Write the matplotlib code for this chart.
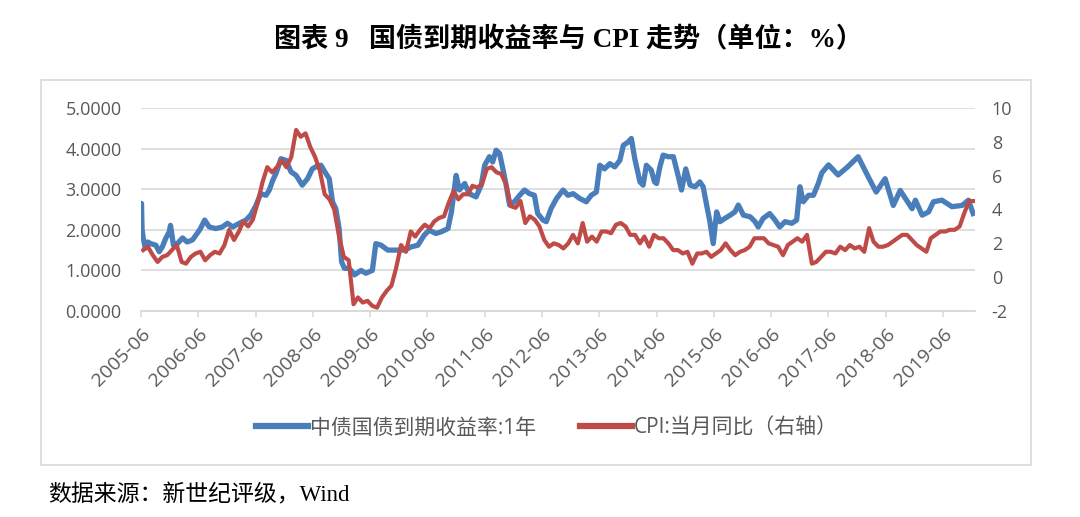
import pandas as pd
import matplotlib
matplotlib.use('Agg')
import matplotlib.pyplot as plt
from matplotlib.patches import Rectangle

plt.rcParams['font.family'] = ['Open Sans', 'Noto Sans CJK SC', 'DejaVu Sans']
plt.rcParams['axes.unicode_minus'] = False

# 中债国债到期收益率:1年 (左轴, 从图上读取)
bond_dates = [
    '2005-06-01', '2005-06-04', '2005-06-08', '2005-06-15', '2005-06-28', '2005-07-15',
    '2005-08-01', '2005-09-04', '2005-09-25', '2005-10-15', '2005-11-06', '2005-11-28',
    '2005-12-06', '2005-12-25', '2006-01-19', '2006-02-21', '2006-03-22', '2006-04-25',
    '2006-05-25', '2006-06-15', '2006-07-12', '2006-08-10', '2006-09-21', '2006-11-01',
    '2006-12-04', '2007-01-07', '2007-02-18', '2007-04-01', '2007-05-01', '2007-06-04',
    '2007-07-04', '2007-08-07', '2007-08-28', '2007-09-19', '2007-10-10', '2007-11-10',
    '2007-12-13', '2008-01-13', '2008-02-15', '2008-03-25', '2008-04-28', '2008-05-28',
    '2008-06-19', '2008-07-22', '2008-08-22', '2008-09-13', '2008-10-04', '2008-10-25',
    '2008-11-15', '2008-12-01', '2008-12-19', '2009-01-19', '2009-02-21', '2009-04-04',
    '2009-05-04', '2009-06-15', '2009-07-07', '2009-08-10', '2009-09-21', '2009-11-12',
    '2010-01-07', '2010-02-18', '2010-04-01', '2010-05-12', '2010-06-12', '2010-07-25',
    '2010-08-28', '2010-10-10', '2010-11-01', '2010-12-01', '2010-12-22', '2011-01-25',
    '2011-02-22', '2011-04-07', '2011-05-10', '2011-06-01', '2011-07-01', '2011-07-22',
    '2011-08-13', '2011-09-04', '2011-09-25', '2011-10-16', '2011-11-07', '2011-12-07',
    '2012-01-10', '2012-02-10', '2012-03-13', '2012-04-13', '2012-05-04', '2012-06-07',
    '2012-06-28', '2012-07-28', '2012-09-01', '2012-10-13', '2012-11-13', '2012-12-16',
    '2013-01-28', '2013-03-10', '2013-04-10', '2013-05-13', '2013-06-04', '2013-07-04',
    '2013-08-07', '2013-09-07', '2013-10-10', '2013-11-01', '2013-12-01', '2013-12-22',
    '2014-01-13', '2014-02-15', '2014-03-07', '2014-03-28', '2014-04-28', '2014-05-19',
    '2014-06-01', '2014-06-22', '2014-07-13', '2014-08-13', '2014-09-16', '2014-10-16',
    '2014-11-07', '2014-12-04', '2015-01-01', '2015-02-01', '2015-03-04', '2015-03-25',
    '2015-04-16', '2015-05-07', '2015-05-28', '2015-06-19', '2015-07-10', '2015-08-10',
    '2015-09-13', '2015-10-13', '2015-11-04', '2015-12-07', '2016-01-19', '2016-02-19',
    '2016-03-10', '2016-04-10', '2016-05-22', '2016-06-25', '2016-07-25', '2016-08-28',
    '2016-10-10', '2016-11-10', '2016-12-01', '2016-12-22', '2017-01-25', '2017-02-25',
    '2017-03-28', '2017-04-19', '2017-06-01', '2017-08-01', '2017-10-01', '2017-12-07',
    '2018-02-10', '2018-04-01', '2018-05-28', '2018-07-19', '2018-09-01', '2018-11-16',
    '2018-12-07', '2019-01-19', '2019-03-01', '2019-04-01', '2019-05-25', '2019-07-28',
    '2019-10-01', '2019-11-10', '2019-12-10',
]
bond_yield = [
    2.03, 2.65, 2.00, 1.80, 1.55, 1.70,
    1.66, 1.62, 1.46, 1.58, 1.79, 1.95,
    2.11, 1.62, 1.66, 1.80, 1.70, 1.75,
    1.91, 2.03, 2.24, 2.07, 2.03, 2.07,
    2.16, 2.07, 2.16, 2.24, 2.36, 2.60,
    2.89, 2.85, 2.98, 3.22, 3.39, 3.75,
    3.71, 3.43, 3.34, 3.10, 3.26, 3.50,
    3.55, 3.59, 3.39, 3.26, 2.69, 2.52,
    2.03, 1.21, 1.05, 1.05, 0.89, 1.00,
    0.93, 1.00, 1.66, 1.62, 1.50, 1.50,
    1.50, 1.58, 1.62, 1.87, 1.99, 1.91,
    1.95, 2.03, 2.44, 3.34, 2.98, 3.14,
    2.89, 2.81, 3.10, 3.59, 3.80, 3.67,
    3.96, 3.88, 3.50, 3.10, 2.61, 2.69,
    2.85, 2.98, 2.89, 2.85, 2.40, 2.24,
    2.20, 2.52, 2.77, 2.98, 2.85, 2.89,
    2.77, 2.69, 2.85, 2.93, 3.59, 3.50,
    3.63, 3.55, 3.71, 4.08, 4.16, 4.25,
    3.75, 3.18, 3.10, 3.59, 3.47, 3.18,
    3.14, 3.55, 3.84, 3.80, 3.80, 3.34,
    2.98, 3.50, 3.10, 3.06, 3.18, 3.06,
    2.61, 2.20, 1.66, 2.44, 2.20, 2.28,
    2.36, 2.44, 2.61, 2.36, 2.32, 2.20,
    2.07, 2.28, 2.40, 2.24, 2.07, 2.20,
    2.16, 2.24, 3.06, 2.69, 2.85, 2.85,
    3.14, 3.40, 3.60, 3.35, 3.55, 3.80,
    3.30, 2.93, 3.26, 2.60, 2.97, 2.52,
    2.73, 2.36, 2.44, 2.69, 2.73, 2.57,
    2.60, 2.73, 2.40,
]

# CPI:当月同比 (右轴), 2005-06 至 2019-12 每月一个值
cpi_start = '2005-06-01'
cpi_yoy = [
    1.6, 1.8, 1.3, 0.9, 1.2, 1.3, 1.6,
    1.9, 0.9, 0.8, 1.2, 1.4, 1.5, 1.0, 1.3, 1.5, 1.4, 1.9, 2.8,
    2.2, 2.7, 3.3, 3.0, 3.4, 4.4, 5.6, 6.5, 6.2, 6.5, 6.9, 6.5,
    7.1, 8.7, 8.3, 8.5, 7.7, 7.1, 6.3, 4.9, 4.6, 4.0, 2.4, 1.2,
    1.0, -1.6, -1.2, -1.5, -1.4, -1.7, -1.8, -1.2, -0.8, -0.5, 0.6, 1.9,
    1.5, 2.7, 2.4, 2.8, 3.1, 2.9, 3.3, 3.5, 3.6, 4.4, 5.1, 4.6,
    4.9, 4.9, 5.4, 5.3, 5.5, 6.4, 6.5, 6.2, 6.1, 5.5, 4.2, 4.1,
    4.5, 3.2, 3.6, 3.4, 3.0, 2.2, 1.8, 2.0, 1.9, 1.7, 2.0, 2.5,
    2.0, 3.2, 2.1, 2.4, 2.1, 2.7, 2.7, 2.6, 3.1, 3.2, 3.0, 2.5,
    2.5, 2.0, 2.4, 1.8, 2.5, 2.3, 2.3, 2.0, 1.6, 1.6, 1.4, 1.5,
    0.8, 1.4, 1.4, 1.5, 1.2, 1.4, 1.6, 2.0, 1.6, 1.3, 1.5, 1.6,
    1.8, 2.3, 2.3, 2.3, 2.0, 1.9, 1.8, 1.3, 1.9, 2.1, 2.3, 2.1,
    2.5, 0.8, 0.9, 1.2, 1.5, 1.5, 1.4, 1.8, 1.6, 1.9, 1.7, 1.8,
    1.5, 2.9, 2.1, 1.8, 1.8, 1.9, 2.1, 2.3, 2.5, 2.5, 2.2, 1.9,
    1.7, 1.5, 2.3, 2.5, 2.7, 2.7, 2.8, 2.8, 3.0, 3.8, 4.5, 4.5,
]

tick_years = list(range(2005, 2020))
left_ticks = [0, 1, 2, 3, 4, 5]
right_ticks = [-2, 0, 2, 4, 6, 8, 10]

title = '图表 9   国债到期收益率与 CPI 走势（单位：%）'
source = '数据来源：新世纪评级，Wind'
label_bond = '中债国债到期收益率:1年'
label_cpi = 'CPI:当月同比（右轴）'

BLUE = '#4A7EBB'
RED = '#BE4B48'
GRID = '#D9D9D9'
TXT = '#595959'

bond_x = pd.to_datetime(bond_dates)
cpi_x = pd.date_range(cpi_start, periods=len(cpi_yoy), freq='MS') + pd.Timedelta(days=14)

fig = plt.figure(figsize=(10.8, 5.17), dpi=100)
fig.patches.append(Rectangle((41 / 1080, 1 - 465 / 517), 990 / 1080, 385 / 517,
                             transform=fig.transFigure, fill=False,
                             edgecolor=GRID, linewidth=1.2))

ax = fig.add_axes([141 / 1080, 206 / 517, 834 / 1080, 203 / 517])
ax2 = ax.twinx()

ax.plot(bond_x, bond_yield, color=BLUE, linewidth=3.8, solid_joinstyle='round',
        label=label_bond)
ax2.plot(cpi_x, cpi_yoy, color=RED, linewidth=3.0, solid_joinstyle='round',
         label=label_cpi)

ax.set_ylim(0, 5)
ax2.set_ylim(-2, 10)
ax.set_xlim(pd.Timestamp('2005-06-01'), pd.Timestamp('2019-12-22'))

ax.set_yticks(left_ticks)
ax.set_yticklabels([f'{v:.4f}' for v in left_ticks])
ax2.set_yticks(right_ticks)
ax2.set_yticklabels([str(v) for v in right_ticks])

xt = [pd.Timestamp(f'{y}-06-01') for y in tick_years]
ax.set_xticks(xt)
ax.set_xticklabels([f'{y}-06' for y in tick_years], rotation=45, ha='right',
                   rotation_mode='anchor')

ax.grid(axis='y', color=GRID, linewidth=1.2)
ax.set_axisbelow(True)
for a in (ax, ax2):
    for s in ('top', 'left', 'right'):
        a.spines[s].set_visible(False)
    a.spines['bottom'].set_color(GRID)
    a.spines['bottom'].set_linewidth(1.2)

ax.tick_params(axis='y', length=0, pad=14, labelsize=13, labelcolor=TXT)
ax2.tick_params(axis='y', length=0, pad=12, labelsize=13, labelcolor=TXT)
ax.tick_params(axis='x', length=4, width=1.2, color=GRID, pad=6,
               labelsize=14, labelcolor=TXT)

h1, l1 = ax.get_legend_handles_labels()
h2, l2 = ax2.get_legend_handles_labels()
leg = fig.legend(h1 + h2, l1 + l2, loc='center', bbox_to_anchor=(547 / 1080, 1 - 428 / 517),
                 ncol=2, frameon=False, fontsize=15, handlelength=2.5,
                 handletextpad=0.1, columnspacing=2.1)
for t in leg.get_texts():
    t.set_color(TXT)
for line in leg.get_lines():
    line.set_linewidth(4.5)

fig.text(568 / 1080, 1 - 40 / 517, title, ha='center', va='center', fontsize=19.5,
         fontweight='bold', family=['Liberation Serif', 'Noto Sans CJK SC'])
fig.text(48 / 1080, 1 - 495 / 517, source, ha='left', va='center', fontsize=16.5,
         family=['Liberation Serif', 'Noto Sans CJK SC'])

fig.savefig('out.png', dpi=100)
